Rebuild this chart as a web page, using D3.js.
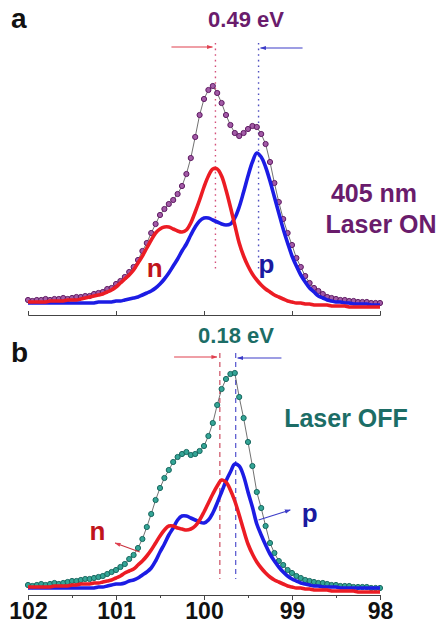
<!DOCTYPE html>
<html>
<head>
<meta charset="utf-8">
<script src="https://cdn.jsdelivr.net/npm/d3@7"></script>
<style>
  html, body { margin: 0; padding: 0; background: #fff; }
  svg { display: block; font-family: "Liberation Sans", Arial, sans-serif; }
</style>
</head>
<body>
<svg id="chart" width="441" height="624"></svg>
<script>
// Si 2p spectra: binding energy grid (eV), 0.05 eV step from 102 down to 98
const energy = d3.range(0, 81).map(i => +(102 - i * 0.05).toFixed(2));

const tickValues = [102, 101, 100, 99, 98];
const tickLabels = ["102", "101", "100", "99", "98"];
const minorTickValues = [101.5, 100.5, 99.5, 98.5];

// Panel a: 405 nm laser ON (intensity, a.u.)
const onMeasured = [
  7, 6, 7, 7, 8, 7, 8, 8, 9, 8,
  9, 10, 10, 11, 11, 13, 14, 15, 18, 19,
  23, 26, 30, 35, 40, 47, 56, 64, 74, 83,
  92, 98, 103, 107, 113, 121, 133, 149, 170, 192,
  208, 217, 221, 214, 204, 192, 182, 174, 171, 174,
  178, 181, 180, 173, 163, 145, 124, 105, 88, 74,
  62, 49, 40, 31, 24, 19, 16, 13, 10, 9,
  8, 7, 7, 6, 6, 5, 5, 5, 4, 4,
  4
];
const onFitN = [
  5, 5, 5, 5, 5, 6, 6, 6, 6, 7,
  7, 7, 8, 9, 10, 11, 12, 13, 15, 17,
  20, 24, 28, 32, 37, 44, 51, 59, 67, 74,
  78, 80, 80, 78, 76, 75, 77, 84, 95, 107,
  120, 131, 138, 138, 131, 117, 100, 82, 64, 51,
  41, 33, 27, 22, 18, 15, 12, 10, 8, 6,
  5, 4, 4, 3, 3, 2, 2, 2, 2, 1,
  1, 1, 1, 0, 0, 0, 0, 0, 0, 0,
  0
];
const onFitP = [
  4, 4, 4, 4, 4, 4, 4, 4, 4, 4,
  4, 4, 4, 4, 4, 4, 5, 5, 5, 5,
  6, 6, 7, 8, 9, 10, 12, 14, 16, 19,
  23, 28, 34, 41, 48, 56, 63, 72, 80, 86,
  89, 89, 87, 85, 83, 82, 83, 89, 100, 115,
  131, 145, 154, 150, 140, 126, 110, 94, 78, 64,
  51, 41, 32, 25, 19, 15, 11, 9, 7, 6,
  5, 5, 4, 4, 3, 3, 3, 3, 2, 2,
  2
];

// Panel b: laser OFF (intensity, a.u.)
const offMeasured = [
  7, 6, 7, 8, 7, 8, 9, 8, 9, 10,
  11, 11, 12, 13, 13, 14, 15, 16, 18, 20,
  22, 25, 28, 33, 37, 44, 53, 65, 78, 92,
  104, 114, 122, 130, 135, 138, 140, 137, 138, 141,
  146, 156, 169, 187, 203, 213, 218, 219, 195, 174,
  150, 126, 100, 84, 66, 49, 39, 31, 27, 22,
  19, 16, 14, 12, 11, 10, 9, 9, 8, 7,
  7, 6, 6, 6, 5, 5, 5, 5, 4, 4,
  4
];
const offFitN = [
  5, 5, 5, 5, 5, 5, 6, 6, 6, 6,
  7, 7, 8, 8, 8, 9, 9, 10, 11, 12,
  14, 16, 19, 21, 23, 27, 31, 36, 42, 49,
  56, 62, 66, 66, 64, 63, 62, 63, 66, 72,
  80, 89, 98, 106, 112, 110, 102, 91, 77, 62,
  48, 38, 30, 24, 19, 15, 12, 10, 8, 6,
  5, 4, 4, 3, 3, 2, 2, 2, 2, 1,
  1, 1, 1, 1, 1, 0, 0, 0, 0, 0,
  0
];
const offFitP = [
  4, 4, 4, 4, 4, 4, 4, 4, 4, 4,
  4, 4, 4, 4, 4, 4, 5, 5, 6, 7,
  8, 8, 9, 11, 12, 14, 17, 20, 24, 31,
  40, 48, 57, 64, 72, 76, 76, 74, 72, 70,
  69, 72, 79, 89, 100, 111, 120, 128, 126, 116,
  100, 85, 68, 57, 47, 38, 31, 25, 20, 16,
  13, 11, 9, 8, 7, 6, 6, 5, 5, 5,
  5, 4, 4, 4, 4, 4, 4, 4, 4, 4,
  4
];

// Peak positions of the n- and p-type components (eV)
const onPeaks = { n: 99.87, p: 99.38 };
const offPeaks = { n: 99.82, p: 99.64 };

const RED = "#ec1c24", BLUE = "#1c1ce4";

const svg = d3.select("#chart");
const defs = svg.append("defs");
function arrowMarker(id, color) {
  defs.append("marker")
    .attr("id", id)
    .attr("viewBox", "0 0 10 10")
    .attr("refX", 9).attr("refY", 5)
    .attr("markerWidth", 6).attr("markerHeight", 6)
    .attr("markerUnits", "userSpaceOnUse")
    .attr("orient", "auto")
    .append("path")
    .attr("d", "M0,1.5L10,5L0,8.5Z")
    .attr("fill", color);
}
arrowMarker("arRed", "#e0404f");
arrowMarker("arBlue", "#3c3cc8");

const x = d3.scaleLinear().domain([102, 98]).range([28, 380]);

function drawPanel(cfg) {
  const g = svg.append("g");
  const y = d3.scaleLinear().domain([0, 230]).range([cfg.base, cfg.base - 230]);
  const pts = (vals) => energy.map((e, i) => [e, vals[i]]);

  // marker lines at the component peaks
  [[cfg.peaks.n, cfg.markN], [cfg.peaks.p, cfg.markP]].forEach(([e, c]) => {
    g.append("line")
      .attr("x1", x(e)).attr("x2", x(e))
      .attr("y1", cfg.markTop).attr("y2", cfg.markBottom)
      .attr("stroke", c).attr("stroke-width", cfg.markWidth)
      .attr("stroke-dasharray", cfg.markDash);
  });

  // measured spectrum: thin connecting line + circles
  const lineLin = d3.line().x(d => x(d[0])).y(d => y(d[1]));
  g.append("path")
    .attr("d", lineLin(pts(cfg.measured)))
    .attr("fill", "none").attr("stroke", "#333").attr("stroke-width", 0.7);
  g.selectAll("circle.m").data(pts(cfg.measured)).join("circle")
    .attr("class", "m")
    .attr("cx", d => x(d[0])).attr("cy", d => y(d[1]))
    .attr("r", 2.6)
    .attr("fill", cfg.dotFill).attr("stroke", cfg.dotStroke).attr("stroke-width", 1);

  // fitted components
  const lineSmooth = d3.line().x(d => x(d[0])).y(d => y(d[1])).curve(d3.curveCatmullRom.alpha(0.5));
  g.append("path").attr("d", lineSmooth(pts(cfg.fitP)))
    .attr("fill", "none").attr("stroke", BLUE).attr("stroke-width", 3.6).attr("stroke-linejoin", "round");
  g.append("path").attr("d", lineSmooth(pts(cfg.fitN)))
    .attr("fill", "none").attr("stroke", RED).attr("stroke-width", 3.6).attr("stroke-linejoin", "round");

  // shift arrows
  g.append("line")
    .attr("x1", x(cfg.peaks.n + cfg.arrowLen)).attr("x2", x(cfg.peaks.n) - 3)
    .attr("y1", cfg.arrowY).attr("y2", cfg.arrowY)
    .attr("stroke", "#e0404f").attr("stroke-width", 1.1)
    .attr("marker-end", "url(#arRed)");
  g.append("line")
    .attr("x1", x(cfg.peaks.p - cfg.arrowLen)).attr("x2", x(cfg.peaks.p) + 2)
    .attr("y1", cfg.arrowY + 1).attr("y2", cfg.arrowY + 1)
    .attr("stroke", "#3c3cc8").attr("stroke-width", 1.1)
    .attr("marker-end", "url(#arBlue)");

  // shift label
  g.append("text")
    .attr("x", cfg.shiftX).attr("y", cfg.shiftY)
    .attr("text-anchor", "middle")
    .attr("font-size", 22).attr("font-weight", "bold")
    .attr("fill", cfg.textColor)
    .text(cfg.shiftText);

  // panel letter
  g.append("text")
    .attr("x", 11).attr("y", cfg.letterY)
    .attr("font-size", 28).attr("font-weight", "bold").attr("fill", "#111")
    .text(cfg.letter);

  // condition label
  cfg.condition.forEach((t, i) => {
    g.append("text")
      .attr("x", cfg.condX[i]).attr("y", cfg.condY[i])
      .attr("text-anchor", "middle")
      .attr("font-size", 25).attr("font-weight", "bold")
      .attr("fill", cfg.textColor)
      .text(t);
  });

  // component labels
  g.append("text")
    .attr("x", x(cfg.nLabel[0])).attr("y", y(cfg.nLabel[1]))
    .attr("text-anchor", "middle")
    .attr("font-size", 26).attr("font-weight", "bold").attr("fill", "#c0141c")
    .text("n");
  g.append("text")
    .attr("x", x(cfg.pLabel[0])).attr("y", y(cfg.pLabel[1]))
    .attr("text-anchor", "middle")
    .attr("font-size", 26).attr("font-weight", "bold").attr("fill", "#1a1aa0")
    .text("p");

  if (cfg.labelArrows) {
    cfg.labelArrows.forEach(a => {
      g.append("line")
        .attr("x1", x(a.from[0])).attr("y1", y(a.from[1]))
        .attr("x2", x(a.to[0])).attr("y2", y(a.to[1]))
        .attr("stroke", a.color).attr("stroke-width", 1.1)
        .attr("marker-end", `url(#${a.marker})`);
    });
  }

  // x axis
  const ax = g.append("g").attr("transform", `translate(0,${cfg.axisY})`);
  const axis = d3.axisBottom(x).tickValues(tickValues).tickSizeOuter(0)
    .tickSize(cfg.tickSize).tickPadding(3)
    .tickFormat((d, i) => cfg.showLabels ? tickLabels[i] : "");
  ax.call(axis);
  ax.select(".domain").attr("stroke", "#444").attr("stroke-width", 1);
  ax.selectAll(".tick line").attr("stroke", "#444").attr("stroke-width", 1);
  ax.selectAll(".tick text")
    .attr("font-family", "\"Liberation Sans\", Arial, sans-serif")
    .attr("font-size", 23).attr("font-weight", "bold").attr("fill", "#111");
  if (cfg.minor) {
    const mx = g.append("g").attr("transform", `translate(0,${cfg.axisY})`);
    mx.call(d3.axisBottom(x).tickValues(minorTickValues).tickSize(3).tickFormat(""));
    mx.select(".domain").remove();
    mx.selectAll(".tick line").attr("stroke", "#444");
  }
}

drawPanel({
  letter: "a", letterY: 28,
  measured: onMeasured, fitN: onFitN, fitP: onFitP,
  base: 307, axisY: 315, tickSize: -4, showLabels: false, minor: false,
  peaks: onPeaks,
  markN: "#d4507a", markP: "#5050c0", markWidth: 1.4, markDash: "1.6,4",
  markTop: 43, markBottom: 270,
  arrowY: 47, arrowLen: 0.5,
  dotFill: "#a25aa6", dotStroke: "#5e1a62",
  textColor: "#6a1c6c",
  shiftText: "0.49 eV", shiftX: 246, shiftY: 27,
  condition: ["405 nm", "Laser ON"], condX: [374, 381], condY: [202, 233],
  nLabel: [100.56, 30], pLabel: [99.29, 34]
});

drawPanel({
  letter: "b", letterY: 362,
  measured: offMeasured, fitN: offFitN, fitP: offFitP,
  base: 592, axisY: 595, tickSize: 5, showLabels: true, minor: true,
  peaks: offPeaks,
  markN: "#d05a6c", markP: "#6060d0", markWidth: 1.3, markDash: "5,4",
  markTop: 353, markBottom: 579,
  arrowY: 357, arrowLen: 0.52,
  dotFill: "#34a596", dotStroke: "#17675f",
  textColor: "#1c6d66",
  shiftText: "0.18 eV", shiftX: 236, shiftY: 343,
  condition: ["Laser OFF"], condX: [346], condY: [427],
  nLabel: [101.21, 52], pLabel: [98.8, 70],
  labelArrows: [
    { from: [100.73, 40], to: [101.01, 49], color: "#c8303c", marker: "arRed" },
    { from: [99.38, 72], to: [99.02, 82], color: "#3c3cc8", marker: "arBlue" }
  ]
});
</script>
</body>
</html>
